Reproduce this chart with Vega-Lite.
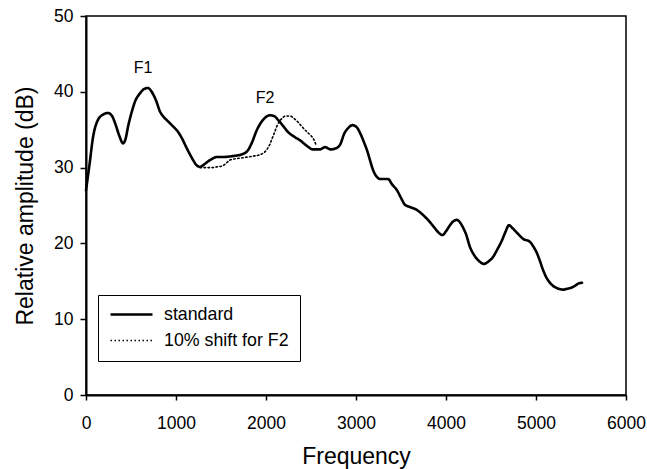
{
  "$schema": "https://vega.github.io/schema/vega-lite/v6.json",
  "width": 540,
  "height": 379,
  "autosize": {"type": "none"},
  "padding": {"left": 86, "top": 16, "right": 21, "bottom": 74},
  "background": "white",
  "config": {
    "font": "Liberation Sans",
    "view": {"stroke": "black", "strokeWidth": 1.5},
    "axis": {
      "grid": false,
      "domainColor": "black",
      "domainWidth": 2,
      "tickColor": "black",
      "tickWidth": 1.5,
      "labelColor": "black",
      "titleColor": "black",
      "labelFont": "Liberation Sans",
      "titleFont": "Liberation Sans",
      "labelFontSize": 17.5,
      "titleFontSize": 23,
      "titleFontWeight": "normal"
    }
  },
  "datasets": {
    "curves": [
      {"series": "standard", "freq": 0, "db": 27.0},
      {"series": "standard", "freq": 40, "db": 30.5},
      {"series": "standard", "freq": 78, "db": 34.0},
      {"series": "standard", "freq": 133, "db": 36.3},
      {"series": "standard", "freq": 190, "db": 37.0},
      {"series": "standard", "freq": 244, "db": 37.2},
      {"series": "standard", "freq": 290, "db": 36.8},
      {"series": "standard", "freq": 322, "db": 35.9},
      {"series": "standard", "freq": 370, "db": 34.2},
      {"series": "standard", "freq": 411, "db": 33.2},
      {"series": "standard", "freq": 440, "db": 33.8},
      {"series": "standard", "freq": 467, "db": 35.4},
      {"series": "standard", "freq": 505, "db": 37.2},
      {"series": "standard", "freq": 544, "db": 38.7},
      {"series": "standard", "freq": 600, "db": 39.8},
      {"series": "standard", "freq": 650, "db": 40.4},
      {"series": "standard", "freq": 689, "db": 40.5},
      {"series": "standard", "freq": 730, "db": 40.0},
      {"series": "standard", "freq": 780, "db": 38.8},
      {"series": "standard", "freq": 822, "db": 37.4},
      {"series": "standard", "freq": 870, "db": 36.6},
      {"series": "standard", "freq": 920, "db": 36.0},
      {"series": "standard", "freq": 970, "db": 35.4},
      {"series": "standard", "freq": 1011, "db": 34.9},
      {"series": "standard", "freq": 1060, "db": 34.0},
      {"series": "standard", "freq": 1122, "db": 32.5},
      {"series": "standard", "freq": 1180, "db": 31.2},
      {"series": "standard", "freq": 1230, "db": 30.3},
      {"series": "standard", "freq": 1267, "db": 30.1},
      {"series": "standard", "freq": 1310, "db": 30.4},
      {"series": "standard", "freq": 1378, "db": 31.0},
      {"series": "standard", "freq": 1456, "db": 31.4},
      {"series": "standard", "freq": 1522, "db": 31.4},
      {"series": "standard", "freq": 1620, "db": 31.5},
      {"series": "standard", "freq": 1744, "db": 31.8},
      {"series": "standard", "freq": 1800, "db": 32.3},
      {"series": "standard", "freq": 1840, "db": 33.2},
      {"series": "standard", "freq": 1900, "db": 35.0},
      {"series": "standard", "freq": 1967, "db": 36.3},
      {"series": "standard", "freq": 2044, "db": 36.9},
      {"series": "standard", "freq": 2090, "db": 36.8},
      {"series": "standard", "freq": 2133, "db": 36.3},
      {"series": "standard", "freq": 2190, "db": 35.5},
      {"series": "standard", "freq": 2244, "db": 34.7},
      {"series": "standard", "freq": 2310, "db": 34.1},
      {"series": "standard", "freq": 2378, "db": 33.6},
      {"series": "standard", "freq": 2450, "db": 32.9},
      {"series": "standard", "freq": 2522, "db": 32.4},
      {"series": "standard", "freq": 2600, "db": 32.4},
      {"series": "standard", "freq": 2656, "db": 32.7},
      {"series": "standard", "freq": 2720, "db": 32.4},
      {"series": "standard", "freq": 2767, "db": 32.5},
      {"series": "standard", "freq": 2822, "db": 33.0},
      {"series": "standard", "freq": 2870, "db": 34.5},
      {"series": "standard", "freq": 2920, "db": 35.3},
      {"series": "standard", "freq": 2960, "db": 35.6},
      {"series": "standard", "freq": 3010, "db": 35.3},
      {"series": "standard", "freq": 3044, "db": 34.6},
      {"series": "standard", "freq": 3090, "db": 33.3},
      {"series": "standard", "freq": 3122, "db": 32.3},
      {"series": "standard", "freq": 3160, "db": 30.8},
      {"series": "standard", "freq": 3189, "db": 29.7},
      {"series": "standard", "freq": 3230, "db": 28.8},
      {"series": "standard", "freq": 3267, "db": 28.5},
      {"series": "standard", "freq": 3356, "db": 28.5},
      {"series": "standard", "freq": 3400, "db": 27.8},
      {"series": "standard", "freq": 3456, "db": 27.0},
      {"series": "standard", "freq": 3500, "db": 26.0},
      {"series": "standard", "freq": 3544, "db": 25.1},
      {"series": "standard", "freq": 3600, "db": 24.8},
      {"series": "standard", "freq": 3678, "db": 24.4},
      {"series": "standard", "freq": 3740, "db": 23.8},
      {"series": "standard", "freq": 3800, "db": 23.1},
      {"series": "standard", "freq": 3870, "db": 22.1},
      {"series": "standard", "freq": 3920, "db": 21.4},
      {"series": "standard", "freq": 3960, "db": 21.1},
      {"series": "standard", "freq": 4000, "db": 21.6},
      {"series": "standard", "freq": 4044, "db": 22.4},
      {"series": "standard", "freq": 4080, "db": 22.9},
      {"series": "standard", "freq": 4122, "db": 23.1},
      {"series": "standard", "freq": 4160, "db": 22.7},
      {"series": "standard", "freq": 4189, "db": 22.1},
      {"series": "standard", "freq": 4220, "db": 21.3},
      {"series": "standard", "freq": 4267, "db": 19.5},
      {"series": "standard", "freq": 4310, "db": 18.5},
      {"series": "standard", "freq": 4356, "db": 17.8},
      {"series": "standard", "freq": 4422, "db": 17.3},
      {"series": "standard", "freq": 4470, "db": 17.6},
      {"series": "standard", "freq": 4522, "db": 18.2},
      {"series": "standard", "freq": 4570, "db": 19.2},
      {"series": "standard", "freq": 4622, "db": 20.4},
      {"series": "standard", "freq": 4660, "db": 21.5},
      {"series": "standard", "freq": 4700, "db": 22.4},
      {"series": "standard", "freq": 4740, "db": 22.0},
      {"series": "standard", "freq": 4789, "db": 21.4},
      {"series": "standard", "freq": 4856, "db": 20.6},
      {"series": "standard", "freq": 4933, "db": 20.2},
      {"series": "standard", "freq": 4970, "db": 19.6},
      {"series": "standard", "freq": 5011, "db": 18.7},
      {"series": "standard", "freq": 5040, "db": 17.8},
      {"series": "standard", "freq": 5078, "db": 16.5},
      {"series": "standard", "freq": 5120, "db": 15.4},
      {"series": "standard", "freq": 5156, "db": 14.8},
      {"series": "standard", "freq": 5200, "db": 14.3},
      {"series": "standard", "freq": 5233, "db": 14.1},
      {"series": "standard", "freq": 5300, "db": 13.9},
      {"series": "standard", "freq": 5340, "db": 14.0},
      {"series": "standard", "freq": 5378, "db": 14.1},
      {"series": "standard", "freq": 5433, "db": 14.4},
      {"series": "standard", "freq": 5470, "db": 14.7},
      {"series": "standard", "freq": 5511, "db": 14.8},
      {"series": "10% shift for F2", "freq": 1267, "db": 30.0},
      {"series": "10% shift for F2", "freq": 1330, "db": 30.0},
      {"series": "10% shift for F2", "freq": 1400, "db": 30.0},
      {"series": "10% shift for F2", "freq": 1456, "db": 30.1},
      {"series": "10% shift for F2", "freq": 1511, "db": 30.2},
      {"series": "10% shift for F2", "freq": 1560, "db": 30.6},
      {"series": "10% shift for F2", "freq": 1600, "db": 31.0},
      {"series": "10% shift for F2", "freq": 1744, "db": 31.3},
      {"series": "10% shift for F2", "freq": 1850, "db": 31.5},
      {"series": "10% shift for F2", "freq": 1933, "db": 31.7},
      {"series": "10% shift for F2", "freq": 1980, "db": 32.0},
      {"series": "10% shift for F2", "freq": 2011, "db": 32.4},
      {"series": "10% shift for F2", "freq": 2040, "db": 33.0},
      {"series": "10% shift for F2", "freq": 2067, "db": 33.8},
      {"series": "10% shift for F2", "freq": 2100, "db": 34.8},
      {"series": "10% shift for F2", "freq": 2122, "db": 35.5},
      {"series": "10% shift for F2", "freq": 2150, "db": 36.1},
      {"series": "10% shift for F2", "freq": 2178, "db": 36.5},
      {"series": "10% shift for F2", "freq": 2220, "db": 36.8},
      {"series": "10% shift for F2", "freq": 2267, "db": 36.8},
      {"series": "10% shift for F2", "freq": 2310, "db": 36.5},
      {"series": "10% shift for F2", "freq": 2356, "db": 36.0},
      {"series": "10% shift for F2", "freq": 2400, "db": 35.4},
      {"series": "10% shift for F2", "freq": 2456, "db": 34.7},
      {"series": "10% shift for F2", "freq": 2500, "db": 34.2},
      {"series": "10% shift for F2", "freq": 2522, "db": 33.9},
      {"series": "10% shift for F2", "freq": 2556, "db": 33.0}
    ],
    "labels": [
      {"label": "F1", "freq": 633, "db": 43.1},
      {"label": "F2", "freq": 1989, "db": 39.2}
    ]
  },
  "layer": [
    {
      "data": {"name": "curves"},
      "mark": {"type": "line", "color": "black", "interpolate": "monotone", "strokeCap": "round", "strokeJoin": "round"},
      "encoding": {
        "x": {
          "field": "freq", "type": "quantitative",
          "scale": {"domain": [0, 6000], "nice": false},
          "axis": {"values": [0, 1000, 2000, 3000, 4000, 5000, 6000], "format": "d", "title": "Frequency", "tickSize": 5, "labelPadding": 14, "titlePadding": 14, "labelFlush": false, "labelOverlap": false}
        },
        "y": {
          "field": "db", "type": "quantitative",
          "scale": {"domain": [0, 50], "nice": false},
          "axis": {"values": [0, 10, 20, 30, 40, 50], "format": "d", "title": "Relative amplitude (dB)", "tickSize": 6, "labelPadding": 7, "titlePadding": 16, "labelFlush": false}
        },
        "strokeDash": {
          "field": "series", "type": "nominal",
          "scale": {"domain": ["standard", "10% shift for F2"], "range": [[1, 0], [1.5, 2.5]]},
          "legend": {
            "title": null, "orient": "none", "legendX": 12, "legendY": 279,
            "symbolType": "stroke", "symbolSize": 1764, "symbolStrokeColor": "black",
            "clipHeight": 17,
            "labelFontSize": 17.8, "labelFont": "Liberation Sans", "labelColor": "black",
            "labelOffset": 10, "rowPadding": 7, "padding": 11,
            "strokeColor": "black", "fillColor": "white"
          }
        },
        "strokeWidth": {
          "field": "series", "type": "nominal",
          "scale": {"domain": ["standard", "10% shift for F2"], "range": [2.6, 1.6]},
          "legend": null
        }
      }
    },
    {
      "data": {"name": "labels"},
      "mark": {"type": "text", "font": "Liberation Sans", "fontSize": 16, "color": "black", "baseline": "middle", "align": "center"},
      "encoding": {
        "x": {"field": "freq", "type": "quantitative"},
        "y": {"field": "db", "type": "quantitative"},
        "text": {"field": "label"}
      }
    }
  ]
}
